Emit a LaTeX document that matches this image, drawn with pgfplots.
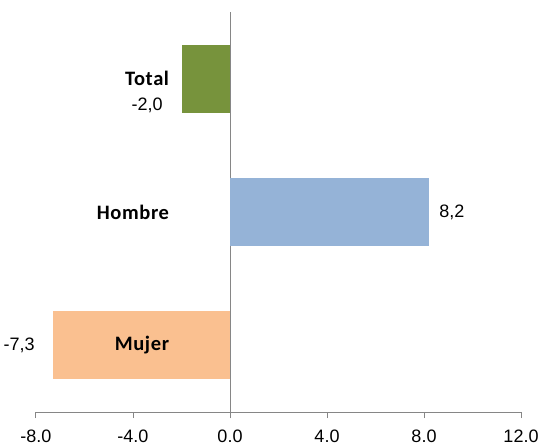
\documentclass[border=0pt]{standalone}
\usepackage{pgfplots}
\pgfplotsset{compat=1.18}
\usepackage{fontspec}
\setmainfont{Liberation Sans}
\newfontfamily\lblfont{Carlito}[LetterSpace=3]
\usetikzlibrary{calc}
\definecolor{cgreen}{HTML}{77933C}
\definecolor{cblue}{HTML}{95B3D7}
\definecolor{corange}{HTML}{FAC090}
\definecolor{axgray}{HTML}{868686}

\begin{document}
\begin{tikzpicture}
\begin{axis}[
    name=ax,
    xbar,
    bar width=68pt,
    bar shift=0pt,
    width=485pt, height=400pt,
    scale only axis,
    xmin=-8, xmax=12,
    ymin=-0.5, ymax=2.5,
    xtick={-8,-4,0,4,8,12},
    xticklabels={-8.0,-4.0,0.0,4.0,8.0,12.0},
    axis x line*=bottom,
    axis y line=none,
    x axis line style={axgray, line width=1pt, -},
    tick style={axgray, line width=1pt},
    tick align=outside,
    major tick length=6pt,
    xticklabel style={font=\fontsize{18}{20}\selectfont, yshift=-8pt},
    extra x ticks={0},
    extra x tick labels={},
    extra x tick style={grid=major, major grid style={axgray, line width=1pt}},
    clip=false,
]
\addplot[fill=corange, draw=none] coordinates {(-7.3,0)};
\addplot[fill=cblue, draw=none] coordinates {(8.2,1)};
\addplot[fill=cgreen, draw=none] coordinates {(-2.0,2)};

\node[font=\lblfont\bfseries\fontsize{20.5}{22}\selectfont] at (axis cs:-3.42,2.0) {Total};
\node[font=\fontsize{18}{20}\selectfont] at (axis cs:-3.42,1.8) {-2,0};
\node[font=\lblfont\bfseries\fontsize{20.5}{22}\selectfont] at (axis cs:-4.0,1.0) {Hombre};
\node[font=\fontsize{18}{20}\selectfont] at (axis cs:9.15,1.0) {8,2};
\node[font=\lblfont\bfseries\fontsize{20.5}{22}\selectfont] at (axis cs:-3.63,0.0) {Mujer};
\node[font=\fontsize{18}{20}\selectfont] at (axis cs:-8.7,0.0) {-7,3};
\end{axis}
\pgfresetboundingbox
\useasboundingbox ($(ax.south west)+(-36pt,-35pt)$) rectangle ($(ax.north east)+(18pt,12pt)$);
\end{tikzpicture}
\end{document}
